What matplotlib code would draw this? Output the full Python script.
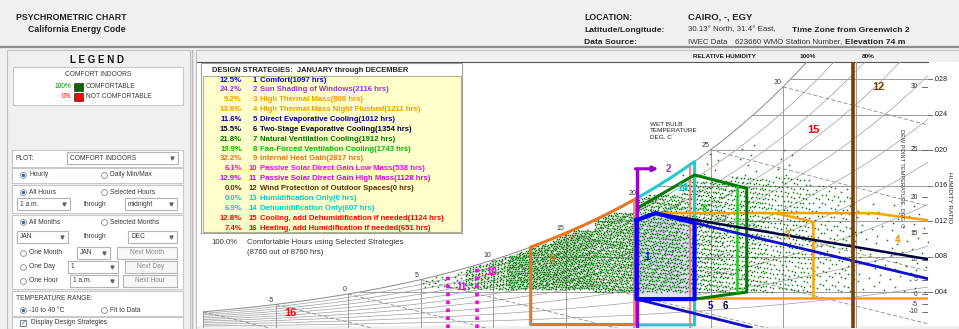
import matplotlib
matplotlib.use("Agg")
import matplotlib.pyplot as plt
from matplotlib.patches import Rectangle, Polygon
import numpy as np

plt.rcParams["font.family"] = ["Liberation Sans", "DejaVu Sans"]

# ---------------- data ----------------
strategy_names = [
    "Comfort", "Sun Shading of Windows", "High Thermal Mass",
    "High Thermal Mass Night Flushed", "Direct Evaporative Cooling",
    "Two-Stage Evaporative Cooling", "Natural Ventilation Cooling",
    "Fan-Forced Ventilation Cooling", "Internal Heat Gain",
    "Passive Solar Direct Gain Low Mass", "Passive Solar Direct Gain High Mass",
    "Wind Protection of Outdoor Spaces", "Humidification Only",
    "Dehumidification Only", "Cooling, add Dehumidification if needed",
    "Heating, add Humidification if needed",
]
strategy_hours = [1097, 2116, 808, 1211, 1012, 1354, 1912, 1743, 2817,
                  538, 1128, 0, 0, 607, 1124, 651]
strategy_colors = ["#0000FF", "#9933CC", "#FF9900", "#FF9900", "#000099",
                   "#000033", "#007700", "#00BB00", "#DD7722", "#FF00FF",
                   "#CC00FF", "#553300", "#00CCCC", "#00CCCC", "#FF0000",
                   "#FF0000"]
total_hours = 8760

# humidity ratio ticks (right axis) and dew point labels
w_ticks = [0.004, 0.008, 0.012, 0.016, 0.020, 0.024, 0.028]
w_tick_labels = [".004", ".008", ".012", ".016", ".020", ".024", ".028"]
dew_points = [-10, -5, 0, 5, 10, 15, 20, 25, 30]
wet_bulbs = [-5, 0, 5, 10, 15, 20, 25, 30]
dry_bulbs = [-10, -5, 0, 5, 10, 15, 20, 25, 30, 35, 40]
rh_levels = [0.1, 0.2, 0.3, 0.4, 0.5, 0.6, 0.7, 0.8, 0.9]

# hourly weather data, estimated as density cells (deg C, g/kg, hours drawn)
cell_t_lo = [5, 8, 11, 14, 17, 20, 23, 26, 29, 32, 35, 22]
cell_t_hi = [8, 11, 14, 17, 20, 23, 26, 29, 32, 35, 40, 32]
cell_w_lo = [4.5, 4.3, 4.3, 4.3, 4.0, 4.0, 4.0, 4.0, 4.0, 4.0, 4.0, 17.0]
cell_w_hi = [7.0, 8.0, 9.5, 11.0, 13.0, 15.0, 16.5, 17.0, 17.0, 16.0, 14.0, 21.0]
cell_hours = [40, 250, 550, 700, 750, 700, 550, 400, 250, 150, 70, 25]

# strategy zone outlines (dry bulb deg C, humidity ratio kg/kg)
comfort_t = [19.9, 21.2, 23.9, 23.9, 19.9]
comfort_w = [0.0121, 0.0129, 0.0118, 0.0032, 0.0032]
natvent_t = [20.0, 23.9, 27.5, 27.5, 23.9]
natvent_w = [0.0135, 0.0172, 0.0157, 0.0040, 0.0032]
fan_t = [26.8, 26.8]
fan_w = [0.0041, 0.0158]
mass_t = [21.0, 29.5, 32.1, 32.1]
mass_w = [0.0129, 0.0129, 0.0119, 0.0033]
mass_bottom_t = [23.9, 40.0]
mass_bottom_w = [0.0033, 0.0033]
night_t = [29.5, 36.2, 40.0]
night_w = [0.0129, 0.0129, 0.0121]
evap_t = [23.9, 40.0]
evap_w = [0.0118, 0.0055]
evap_low_t = [19.9, 27.8]
evap_low_w = [0.0032, 0.0]
twostage_t = [21.2, 40.0]
twostage_w = [0.0129, 0.0077]
heatgain_t = [12.6, 19.9]
heatgain_w_bottom = 0.0004
dehum_t = [20.0, 23.9]
dehum_w_bottom = 0.0003
shading_t = 19.9
shading_w = 0.0179
cooling_t = [19.75, 23.6]
wind_t = 34.8
solar_low_t = 8.9
solar_high_t = 6.9

zone_labels = ["1", "2", "3", "4", "5", "6", "8", "9", "10", "11", "12", "14", "15", "16"]
zone_label_t = [20.6, 22.1, 30.3, 37.9, 25.0, 26.0, 24.6, 14.1, 9.9, 7.8, 36.6, 23.1, 32.1, -4.0]
zone_label_w = [0.0080, 0.0179, 0.0104, 0.0099, 0.0024, 0.0024, 0.0134, 0.0077,
                0.0063, 0.0046, 0.0271, 0.0157, 0.0223, 0.0016]
zone_label_colors = ["#0000FF", "#9933CC", "#FF9900", "#FF9900", "#0000CC",
                     "#000033", "#22CC22", "#DD7722", "#FF00FF", "#CC00FF",
                     "#7B3F00", "#00CCCC", "#FF0000", "#FF0000"]

P = 101.325


def pws(t):
    return 0.61094 * np.exp(17.625 * t / (t + 243.04))


def w_rh(t, rh=1.0):
    p = rh * pws(t)
    return 0.622 * p / (P - p)


def dew_point(w):
    pw = P * w / (0.622 + w)
    a = np.log(pw / 0.61094)
    return 243.04 * a / (17.625 - a)


def wet_bulb_line(twb, t):
    wsb = w_rh(twb)
    return ((2501 - 2.326 * twb) * wsb - 1.006 * (t - twb)) / (2501 + 1.86 * t - 4.186 * twb)


# ---------------- figure / ui ----------------
fig = plt.figure(figsize=(9.59, 3.29), dpi=100)
fig.patch.set_facecolor("#F0F0F0")
ui = fig.add_axes([0, 0, 1, 1], zorder=0)
ui.set_xlim(0, 959)
ui.set_ylim(329, 0)
ui.axis("off")

UI_TXT = "#3A3A3A"


def box(x0, y0, x1, y1, fc="white", ec="#C8C8C8", lw=0.8, z=1):
    ui.add_patch(Rectangle((x0, y0), x1 - x0, y1 - y0, fc=fc, ec=ec, lw=lw, zorder=z))


def txt(x, y, s, size=4.8, color=UI_TXT, **kw):
    ui.text(x, y, s, fontsize=size, color=color, va="center", zorder=5, **kw)


def radio(x, y, s, on=False):
    ui.plot(x, y, marker="o", ms=4.2, mfc="white", mec="#8A8A8A", mew=0.6, zorder=5)
    if on:
        ui.plot(x, y, marker="o", ms=2.4, mfc="#3060A8", mec="none", zorder=6)
    txt(x + 6, y, s)


def combo(x0, x1, y, s):
    box(x0, y - 6, x1, y + 6, ec="#B4B4B4", z=2)
    txt(x0 + 3, y, s)
    ui.plot(x1 - 6, y, marker="v", ms=2.2, color="#666", zorder=5)


def button(x0, x1, y, s):
    box(x0, y - 6, x1, y + 6, fc="#F7F7F7", ec="#B4B4B4", z=2)
    txt((x0 + x1) / 2, y, s, ha="center", color="#8A8A8A")


# header
ui.plot([0, 959], [47, 47], color="#8C8C8C", lw=1.6, zorder=2)
txt(16, 17, "PSYCHROMETRIC CHART", size=6.3, color="#222", weight="bold")
txt(28, 29, "California Energy Code", size=6.3, color="#222", weight="bold")
txt(584, 17, "LOCATION:", size=6.3, color="#222", weight="bold")
txt(688, 17, "CAIRO, -, EGY", size=6.8, color="#222", weight="bold")
txt(584, 30, "Latitude/Longitude:", size=6.1, color="#222", weight="bold")
txt(688, 30, "30.13\u00b0 North, 31.4\u00b0 East,", size=5.7, color="#333")
txt(792, 30, "Time Zone from Greenwich 2", size=6.1, color="#222", weight="bold")
txt(584, 42, "Data Source:", size=6.1, color="#222", weight="bold")
txt(688, 42, "IWEC Data", size=5.7, color="#333")
txt(735, 42, "623660 WMO Station Number,", size=5.7, color="#333")
txt(845, 42, "Elevation 74 m", size=6.1, color="#222", weight="bold")

# left panel
box(7, 50, 190, 329, fc="#F0F0F0", ec="#C0C0C0")
ui.plot([192, 192], [50, 329], color="#B8B8B8", lw=1.0, zorder=2)
txt(97, 60, "L E G E N D", size=7, color="#111", weight="bold", ha="center")
box(13, 67, 183, 105)
txt(98, 75, "COMFORT INDOORS", size=4.8, ha="center")
txt(71, 87, "100%", size=4.8, color="#008800", ha="right")
box(74, 83, 83, 91, fc="#006600", ec="#333", lw=0.5, z=3)
txt(86, 87, "COMFORTABLE", size=4.8)
txt(71, 97, "0%", size=4.8, color="#FF0000", ha="right")
box(74, 93, 83, 101, fc="#FF0000", ec="#333", lw=0.5, z=3)
txt(86, 97, "NOT COMFORTABLE", size=4.8)

box(12, 150, 183, 167)
txt(16, 158, "PLOT:")
combo(67, 178, 158, "COMFORT INDOORS")
box(12, 168, 183, 183)
radio(23, 175, "Hourly", True)
radio(104, 175, "Daily Min/Max")
box(12, 185, 183, 213)
radio(23, 192, "All Hours", True)
radio(104, 192, "Selected Hours")
combo(17, 70, 204, "1 a.m.")
txt(84, 204, "through")
combo(125, 177, 204, "midnight")
box(12, 215, 183, 289)
radio(23, 222, "All Months", True)
radio(104, 222, "Selected Months")
combo(17, 68, 237, "JAN")
txt(84, 237, "through")
combo(128, 177, 237, "DEC")
radio(23, 253, "One Month")
combo(77, 110, 253, "JAN")
button(117, 177, 253, "Next Month")
radio(23, 267, "One Day")
combo(68, 118, 267, "1")
button(125, 177, 267, "Next Day")
radio(23, 281, "One Hour")
combo(70, 118, 281, "1 a.m.")
button(123, 177, 281, "Next Hour")
box(12, 291, 183, 316)
txt(16, 298, "TEMPERATURE RANGE:")
radio(23, 310, "-10 to 40 \u00b0C", True)
radio(104, 310, "Fit to Data")
box(12, 317, 183, 329)
box(20, 320, 26, 326, ec="#888", z=3)
txt(21, 323, "\u2713", size=5, color="#3060A8")
txt(31, 323, "Display Design Strategies")

# chart panel
box(196, 50, 959, 329, fc="#F0F0F0", ec="#C0C0C0")
box(197, 62, 959, 326, fc="white", ec="none")
ui.plot([197, 928], [62, 62], color="#555", lw=0.8, zorder=2)
txt(693, 57, "RELATIVE HUMIDITY", size=4.6, color="#222", weight="bold")
txt(800, 57, "100%", size=4.6, color="#222", weight="bold")
txt(862, 57, "80%", size=4.6, color="#222", weight="bold")

# design strategies box
box(201, 63, 462, 233, fc="white", ec="#A0A0A0")
box(203, 76, 461, 232, fc="#FFFFCC", ec="#B0B090")
txt(212, 70, "DESIGN STRATEGIES:  JANUARY through DECEMBER", size=5.45, color="#222", weight="bold")
for i, (name, hrs, col) in enumerate(zip(strategy_names, strategy_hours, strategy_colors)):
    y = 80 + i * 9.87
    pct = 100.0 * hrs / total_hours
    txt(242, y, f"{pct:.1f}%", size=5.6, color=col, ha="right", weight="bold")
    txt(257, y, str(i + 1), size=5.6, color=col, ha="right", weight="bold")
    txt(260, y, f"{name}({hrs} hrs)", size=5.6, color=col, weight="bold")
covered = total_hours
txt(237, 243, f"{100.0 * covered / total_hours:.1f}%", size=5.6, color="#333", ha="right")
txt(247, 243, "Comfortable Hours using Selected Strategies", size=5.6, color="#333")
txt(247, 253, f"({covered} out of {total_hours} hrs)", size=5.6, color="#333")

# ---------------- psychrometric chart ----------------
ax = fig.add_axes([203 / 959, 1 - 327.5 / 329, 725 / 959, 266 / 329], zorder=2)
ax.set_xlim(-10, 40)
ax.set_ylim(0, 0.030)
ax.axis("off")

GRID = "#9C9C9C"
t = np.linspace(-10, 40, 500)
for rh in rh_levels:
    ax.plot(t, w_rh(t, rh), color=GRID, lw=0.5, zorder=1)
ax.plot(t, w_rh(t), color="#888", lw=0.7, zorder=1)
for tv in dry_bulbs:
    ax.plot([tv, tv], [0, min(w_rh(tv), 0.03)], color=GRID, lw=0.7, zorder=1)
for wv, lab in zip(w_ticks, w_tick_labels):
    ax.plot([dew_point(wv), 40], [wv, wv], color=GRID, lw=0.7, zorder=1)
    ax.plot([40, 40.3], [wv, wv], color="#555", lw=0.6, clip_on=False)
    ax.text(40.4, wv, lab, fontsize=5.2, color="#222", va="center", clip_on=False)
for twb in wet_bulbs + [-10]:
    tt = np.linspace(twb, 40, 200)
    ww = wet_bulb_line(twb, tt)
    ax.plot(tt, ww, color="#8C8C8C", lw=0.6, ls=(0, (5, 2.5)), zorder=1)
for twb in wet_bulbs:
    ax.text(twb - 0.1, w_rh(twb) + 0.0001, str(twb), fontsize=5, color="#333",
            ha="right", va="bottom", zorder=4)
for td in dew_points:
    wd = w_rh(td)
    ax.plot([39.6, 40], [wd, wd], color="#555", lw=0.6)
    ax.text(39.3, wd, str(td), fontsize=4.8, color="#333", ha="right", va="center")
ax.text(20.8, 0.0232, "WET BULB\nTEMPERATURE\nDEG. C", fontsize=4.6, color="#222",
        va="top", linespacing=1.35, zorder=4)
ax.text(41.45, 0.0146, "HUMIDITY RATIO", fontsize=4.6, color="#222",
        rotation=270, ha="center", va="center", clip_on=False)
ax.text(38.25, 0.0168, "DEW POINT TEMPERATURE, DEG. C", fontsize=4.1, color="#333",
        rotation=270, ha="center", va="center", zorder=4)

# comfort zone fill under the hourly points
ax.add_patch(Polygon(list(zip(comfort_t, comfort_w)), closed=True, fc="#E2E2F6", ec="none", zorder=1.5))

# hourly points: each density cell is spread evenly (R2 low-discrepancy layout)
pts_t, pts_w = [], []
for t0, t1, w0, w1, n in zip(cell_t_lo, cell_t_hi, cell_w_lo, cell_w_hi, cell_hours):
    k = np.arange(n)
    u = (0.5 + k * 0.7548777) % 1.0
    v = (0.5 + k * 0.5698403) % 1.0
    tv = t0 + u * (t1 - t0)
    wv = (w0 + v * (w1 - w0)) / 1000
    keep = wv < 0.985 * w_rh(tv)
    pts_t.extend(tv[keep])
    pts_w.extend(wv[keep])
ax.plot(pts_t, pts_w, ls="none", marker="s", ms=1.1, mew=0, color="#137A13", zorder=2)

# strategy outlines
ts = np.linspace(heatgain_t[0], heatgain_t[1], 60)
ax.plot(np.r_[ts[0], ts, ts[-1]], np.r_[heatgain_w_bottom, w_rh(ts), heatgain_w_bottom],
        color="#E8761E", lw=2.2, zorder=3)
ax.plot(heatgain_t, [heatgain_w_bottom] * 2, color="#E8761E", lw=2.2, zorder=3)
td_ = np.linspace(dehum_t[0], dehum_t[1], 40)
ax.plot(np.r_[td_, td_[-1], td_[0]], np.r_[w_rh(td_), dehum_w_bottom, dehum_w_bottom],
        color="#22CCCC", lw=2.2, zorder=3)
for tc in cooling_t:
    ax.plot([tc, tc], [0, w_rh(tc) - 0.0002], color="#FF7070", lw=1.2, zorder=3)
ax.plot(mass_t, mass_w, color="#FFA000", lw=1.8, zorder=3)
ax.plot(mass_bottom_t, mass_bottom_w, color="#FFA000", lw=1.8, zorder=3)
ax.plot(night_t, night_w, color="#FFA000", lw=1.8, zorder=3)
ax.plot(natvent_t, natvent_w, color="#007A00", lw=2.2, zorder=3)
ax.plot(fan_t, fan_w, color="#22CC22", lw=1.8, zorder=3)
ax.plot(evap_t, evap_w, color="#1010C8", lw=2.0, zorder=3)
ax.plot(evap_low_t, evap_low_w, color="#1010C8", lw=2.0, zorder=3)
ax.plot(twostage_t, twostage_w, color="#000040", lw=1.8, zorder=3)
ax.plot([wind_t, wind_t], [0, 0.030], color="#7B3F00", lw=2.6, zorder=3)
for ts_, col in [(solar_low_t, "#FF00FF"), (solar_high_t, "#EE00EE")]:
    ax.plot([ts_, ts_], [0, w_rh(ts_)], color=col, lw=2.6, ls=(0, (1, 1.2)), zorder=3)
ax.plot([shading_t, shading_t], [0, shading_w], color="#9900CC", lw=2.4, zorder=3.5)
ax.annotate("", xy=(shading_t + 1.5, shading_w), xytext=(shading_t - 0.08, shading_w),
            arrowprops=dict(arrowstyle="-|>", color="#9900CC", lw=2.2,
                            mutation_scale=7, shrinkA=0, shrinkB=0), zorder=3.5)
ax.plot(comfort_t + comfort_t[:1], comfort_w + comfort_w[:1], color="#0000FF", lw=3, zorder=3.6)

for lab, tl, wl, col in zip(zone_labels, zone_label_t, zone_label_w, zone_label_colors):
    size = 8 if lab in ("15", "16", "12") else 7
    ax.text(tl, wl, lab, fontsize=size, color=col, weight="bold", ha="center", va="center", zorder=5)

fig.savefig("out.png", dpi=100, facecolor=fig.get_facecolor())
